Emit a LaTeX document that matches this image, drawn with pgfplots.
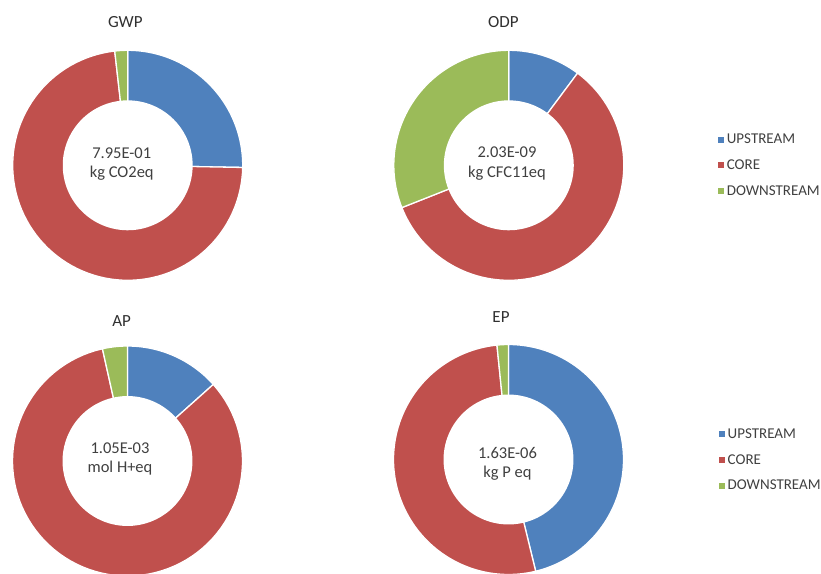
\documentclass[border=0pt]{standalone}
\usepackage{pgfplots}
\pgfplotsset{compat=1.18}
\usepackage{fontspec}
\setmainfont{Carlito}
\definecolor{cup}{HTML}{4F81BD}
\definecolor{ccore}{HTML}{C0504D}
\definecolor{cdown}{HTML}{9BBB59}
\definecolor{tgray}{HTML}{404040}
\definecolor{ttitle}{HTML}{303030}

\pgfplotsset{
  donutaxis/.style={
    anchor=origin, x=115pt, y=115pt,
    xmin=-1.05, xmax=1.05, ymin=-1.05, ymax=1.05,
    hide axis, clip=false,
    legend image code/.code={\fill[##1,draw=none] (0pt,-3pt) rectangle (6pt,3pt);},
  },
  sector/.style={draw=white, line width=1.3pt, samples=90, variable=\t},
  donutlegend/.style={legend style={draw=none, fill=none, at={(axis cs:#1)}, anchor=west,
    legend cell align=left, row sep=12.5pt, column sep=2pt,
    font=\fontsize{15}{17}\selectfont, text=tgray,
    nodes={inner sep=1pt}}},
}

% #1 upstream %, #2 core %, #3 downstream %
\newcommand\donut[3]{%
  \pgfmathsetmacro\aA{90}%
  \pgfmathsetmacro\aB{90-3.6*(#1)}%
  \pgfmathsetmacro\aC{90-3.6*((#1)+(#2))}%
  \pgfmathsetmacro\aD{90-3.6*((#1)+(#2)+(#3))}%
  \addplot[sector, fill=cup, domain=\aB:\aA] ({cos(\t)},{sin(\t)}) -- (axis cs:0,0) -- cycle;
  \addplot[sector, fill=ccore, domain=\aC:\aB] ({cos(\t)},{sin(\t)}) -- (axis cs:0,0) -- cycle;
  \addplot[sector, fill=cdown, domain=\aD:\aC] ({cos(\t)},{sin(\t)}) -- (axis cs:0,0) -- cycle;
  \addplot[forget plot, fill=white, draw=none, domain=0:360, samples=120, variable=\t] ({0.565*cos(\t)},{0.565*sin(\t)}) -- cycle;
}

\begin{document}
\begin{tikzpicture}
\useasboundingbox (0pt,0pt) rectangle (821pt,-573pt);

% GWP
\begin{axis}[donutaxis, at={(127.7pt,-165.3pt)}]
\donut{25.3}{72.9}{1.8}
\end{axis}

% ODP
\begin{axis}[donutaxis, at={(508.8pt,-165.3pt)}, donutlegend={1.79,0.0}]
\donut{10.2}{58.8}{31.0}
\legend{UPSTREAM,CORE,DOWNSTREAM}
\end{axis}

% AP
\begin{axis}[donutaxis, at={(127.5pt,-461pt)}]
\donut{13.4}{83.1}{3.5}
\end{axis}

% EP
\begin{axis}[donutaxis, at={(508.5pt,-459.5pt)}, donutlegend={1.80,-0.005}]
\donut{46.2}{52.2}{1.6}
\legend{UPSTREAM,CORE,DOWNSTREAM}
\end{axis}

% titles
\begin{scope}[every node/.style={text=ttitle, font=\fontsize{17}{20}\selectfont}]
\node at (125.3pt,-21.7pt) {GWP};
\node at (503.3pt,-21.7pt) {ODP};
\node at (121.7pt,-321pt) {AP};
\node at (501pt,-316.7pt) {EP};
\end{scope}

% centre texts
\begin{scope}[every node/.style={text=tgray, align=center, font=\fontsize{16.5}{19.5}\selectfont}]
\node at (121.7pt,-164pt) {7.95E-01\\kg CO2eq};
\node at (507pt,-163.7pt) {2.03E-09\\kg CFC11eq};
\node at (120pt,-459pt) {1.05E-03\\mol H+eq};
\node at (507.5pt,-464pt) {1.63E-06\\kg P eq};
\end{scope}
\end{tikzpicture}
\end{document}
